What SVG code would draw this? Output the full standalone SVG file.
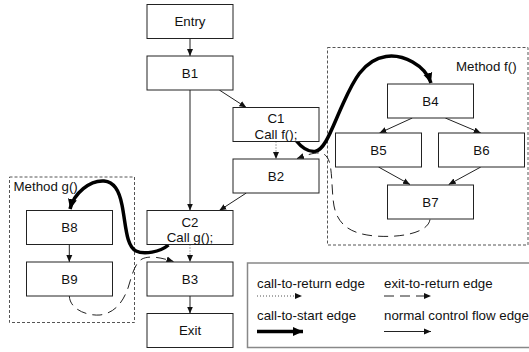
<svg xmlns="http://www.w3.org/2000/svg" width="529" height="352" viewBox="0 0 529 352">
  <style>
    .box { fill: #fff; stroke: #222; stroke-width: 1; }
    .lbl { font-family: "Liberation Sans", Arial, sans-serif; font-size: 13.3px; fill: #111; text-anchor: middle; }
    .txt { font-family: "Liberation Sans", Arial, sans-serif; font-size: 13.3px; fill: #111; }
    .method { fill: none; stroke: #555; stroke-width: 1; stroke-dasharray: 3 2; }
    .flow { fill: none; stroke: #222; stroke-width: 1; marker-end: url(#arr); }
    .ctr { fill: none; stroke: #555; stroke-width: 1; stroke-dasharray: 1 2; marker-end: url(#arr); }
    .etr { fill: none; stroke: #222; stroke-width: 1; stroke-dasharray: 10 6; marker-end: url(#arr); }
    .cts { fill: none; stroke: #000; stroke-width: 3.5; marker-end: url(#arrBig); }
  </style>
  <defs>
    <marker id="arr" markerUnits="userSpaceOnUse" markerWidth="8" markerHeight="8" viewBox="0 0 8 8" refX="7" refY="4" orient="auto">
      <path d="M0,1 L7,4 L0,7 Z" fill="#111"/>
    </marker>
    <marker id="arrBig" markerUnits="userSpaceOnUse" markerWidth="12" markerHeight="12" viewBox="0 0 12 12" refX="10" refY="6" orient="auto">
      <path d="M0,1.5 L10,6 L0,10.5 Z" fill="#000"/>
    </marker>
  </defs>

  <!-- method containers -->
  <g id="method-f">
    <rect class="method" x="327.5" y="47.5" width="200.5" height="197.5"/>
    <text class="txt" x="456" y="71">Method f()</text>
  </g>
  <g id="method-g">
    <rect class="method" x="9.5" y="177" width="125" height="145.5"/>
    <text class="txt" x="13.5" y="191">Method g()</text>
  </g>

  <!-- connectors -->
  <g id="connectors">
    <line class="flow" x1="190" y1="38.5" x2="190" y2="56"/>
    <line class="flow" x1="190" y1="90" x2="190" y2="210.5"/>
    <line class="flow" x1="219.3" y1="90" x2="246.3" y2="107.5"/>
    <line class="ctr" x1="276" y1="141.5" x2="276" y2="159"/>
    <line class="flow" x1="246.3" y1="193" x2="219.3" y2="210.5"/>
    <line class="ctr" x1="190" y1="244.5" x2="190" y2="262"/>
    <line class="flow" x1="190" y1="296" x2="190" y2="313.5"/>
    <line class="flow" x1="412.3" y1="118" x2="379.5" y2="133"/>
    <line class="flow" x1="445.3" y1="118" x2="480.8" y2="133"/>
    <line class="flow" x1="378.5" y1="167" x2="410" y2="184.5"/>
    <line class="flow" x1="480.8" y1="167" x2="448.7" y2="184.5"/>
    <line class="flow" x1="69.3" y1="244.5" x2="69.3" y2="262"/>
    <!-- call-to-start edges -->
    <path class="cts" d="M296,140.5 C302,148 308,152 315,151.5 C325,150 332,128 342,106 C352,84 362,60 386,56.5 C403,54 425,65 431,83"/>
    <path class="cts" d="M168.5,245 C160,252 144,255 136,251 C126,246 126,225 122,205 C119,190 114,182 104,181 C90,180 74,193 70,209"/>
    <!-- exit-to-return edges -->
    <path class="etr" d="M430,219.5 C428,233 400,238 375,236 C352,234 338,226 334,206 C331,188 333,165 327,157 C322,150 312,153 297,158.5"/>
    <path class="etr" d="M69.3,296 C70,310 88,316 100,315 C115,313 123,302 128,288 C132,276 134,264 142,259 C150,255 162,258 173.5,261.5"/>
  </g>

  <!-- nodes -->
  <g id="entry"><rect class="box" x="147" y="4.5" width="86" height="34"/><text class="lbl" x="190" y="26.2">Entry</text></g>
  <g id="b1"><rect class="box" x="147" y="56" width="86" height="34"/><text class="lbl" x="190" y="77.7">B1</text></g>
  <g id="c1"><rect class="box" x="233" y="107.5" width="86" height="34"/><text class="lbl" x="276" y="122.5">C1</text><text class="lbl" x="276" y="138.5">Call f();</text></g>
  <g id="b2"><rect class="box" x="233" y="159" width="86" height="34"/><text class="lbl" x="276" y="180.7">B2</text></g>
  <g id="c2"><rect class="box" x="147" y="210.5" width="86" height="34"/><text class="lbl" x="190" y="226.5">C2</text><text class="lbl" x="190" y="242">Call g();</text></g>
  <g id="b3"><rect class="box" x="147" y="262" width="86" height="34"/><text class="lbl" x="190" y="283.7">B3</text></g>
  <g id="exit"><rect class="box" x="147" y="313.5" width="86" height="34"/><text class="lbl" x="190" y="335.2">Exit</text></g>
  <g id="b4"><rect class="box" x="387.5" y="84" width="86" height="34"/><text class="lbl" x="430.5" y="105.7">B4</text></g>
  <g id="b5"><rect class="box" x="335.5" y="133" width="86" height="34"/><text class="lbl" x="378.5" y="154.7">B5</text></g>
  <g id="b6"><rect class="box" x="438.5" y="133" width="86" height="34"/><text class="lbl" x="481.5" y="154.7">B6</text></g>
  <g id="b7"><rect class="box" x="387.5" y="185" width="86" height="34"/><text class="lbl" x="430.5" y="206.7">B7</text></g>
  <g id="b8"><rect class="box" x="26.5" y="210.5" width="86" height="34"/><text class="lbl" x="69.5" y="232.2">B8</text></g>
  <g id="b9"><rect class="box" x="26.5" y="262" width="86" height="34"/><text class="lbl" x="69.5" y="283.7">B9</text></g>

  <!-- legend -->
  <g id="legend">
    <rect x="247.5" y="263" width="290" height="84.5" fill="#fff" stroke="#888" stroke-width="1.5"/>
    <text class="txt" x="257" y="288">call-to-return edge</text>
    <text class="txt" x="384" y="288">exit-to-return edge</text>
    <text class="txt" x="257" y="320">call-to-start edge</text>
    <text class="txt" x="384" y="320">normal control flow edge</text>
    <line class="ctr" x1="257" y1="296" x2="302" y2="296"/>
    <line class="etr" x1="384" y1="296" x2="431" y2="296"/>
    <line class="cts" x1="257" y1="331.5" x2="303" y2="331.5"/>
    <line class="flow" x1="384" y1="331.5" x2="431" y2="331.5"/>
  </g>
</svg>
